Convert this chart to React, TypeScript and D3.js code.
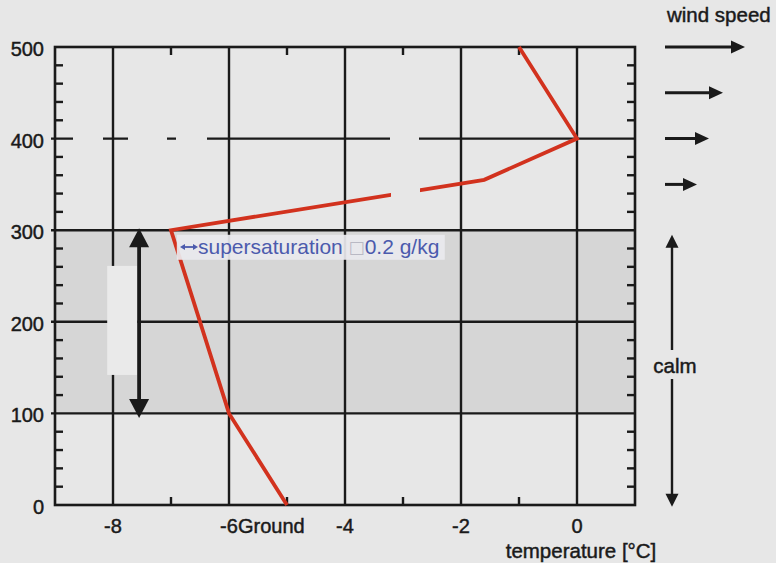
import React from 'react';
import * as d3 from 'd3';

// ── data ────────────────────────────────────────────────────────────────────
const profileHeights = [0, 100, 300, 355, 400, 500];
const profileTemps = [-5.0, -6.0, -7.0, -1.6, 0.0, -1.0];
const xTicks = [-8, -6, -4, -2, 0];
const xMinorTicks = [-7, -5, -3, -1];
const yTicks = [0, 100, 200, 300, 400, 500];
const yMinorTicks = [20, 40, 60, 80, 120, 140, 160, 180, 220, 240, 260, 280, 320, 340, 360, 380, 420, 440, 460, 480];
const calmBand = [100, 300];
const windHeights = [500, 450, 400, 350];
const windSpeeds = [8.0, 5.8, 4.4, 3.2];
const supersatSpan = [302, 95]; // height range of the black double arrow

const W = 776, H = 563;
const BG = '#e7e7e7';
const INK = '#1a1a1a';
const RED = '#d2321e';
const BLUE = '#4b5aad';
const FONT = '"Liberation Sans", Arial, Helvetica, sans-serif';

const x = d3.scaleLinear().domain([-9, 1]).range([55, 635]);
const y = d3.scaleLinear().domain([0, 500]).range([505, 47]);
const wind = d3.scaleLinear().domain([0, 8]).range([0, 80]);

const line = d3.line<number>()
  .x((_, i) => x(profileTemps[i]))
  .y(d => y(d));

function Head({ tx, ty, dir, len, half, fill }: { tx: number; ty: number; dir: 'up' | 'down' | 'right' | 'left'; len: number; half: number; fill: string }) {
  let pts: number[][] = [];
  if (dir === 'right') pts = [[tx, ty], [tx - len, ty - half], [tx - len, ty + half]];
  if (dir === 'left') pts = [[tx, ty], [tx + len, ty - half], [tx + len, ty + half]];
  if (dir === 'up') pts = [[tx, ty], [tx - half, ty + len], [tx + half, ty + len]];
  if (dir === 'down') pts = [[tx, ty], [tx - half, ty - len], [tx + half, ty - len]];
  return <polygon points={pts.map(p => p.join(',')).join(' ')} fill={fill} />;
}

// heavier text, like the printed figure
const txt = { fill: INK, stroke: INK, strokeWidth: 0.45 };

export default function App() {
  const x0 = x.range()[0], x1 = x.range()[1];
  const yTop = y(500), yBot = y(0);
  const arrowX = x(-7.55);
  const calmX = 672;
  const windX0 = 665;
  const GW = 2.4;

  return (
    <div style={{ position: 'absolute', left: 0, top: 0 }}>
      <svg width={W} height={H} viewBox={`0 0 ${W} ${H}`} style={{ display: 'block', background: BG, fontFamily: FONT }}>
        {/* shaded calm layer */}
        <rect x={x0} y={y(calmBand[1])} width={x1 - x0} height={y(calmBand[0]) - y(calmBand[1])} fill="#d6d6d6" />

        {/* vertical grid */}
        {xTicks.map(t => (
          <line key={'vg' + t} x1={x(t)} x2={x(t)} y1={yTop} y2={yBot} stroke={INK} strokeWidth={GW} />
        ))}
        {/* horizontal grid */}
        {yTicks.filter(t => t > 0 && t < 500).map(t => (
          <line key={'hg' + t} x1={x0 - 4} x2={x1} y1={y(t)} y2={y(t)} stroke={INK} strokeWidth={GW}
            strokeDasharray={t === 400 ? '22 30 25 39 9 31 183 29 230' : undefined} />
        ))}

        {/* light strip behind the supersaturation arrow */}
        <rect x={x(-8.1)} y={y(261)} width={x(-7.58) - x(-8.1)} height={y(142) - y(261)} fill="#eaeaea" />

        {/* minor ticks */}
        {yMinorTicks.map(t => (
          <g key={'ym' + t}>
            <line x1={x0} x2={x0 + 8} y1={y(t)} y2={y(t)} stroke={INK} strokeWidth={GW} />
            <line x1={x1 - 8} x2={x1} y1={y(t)} y2={y(t)} stroke={INK} strokeWidth={GW} />
          </g>
        ))}
        {xMinorTicks.map(t => (
          <g key={'xm' + t}>
            <line x1={x(t)} x2={x(t)} y1={yTop} y2={yTop + 8} stroke={INK} strokeWidth={GW} />
            <line x1={x(t)} x2={x(t)} y1={yBot - 8} y2={yBot} stroke={INK} strokeWidth={GW} />
          </g>
        ))}

        {/* frame */}
        <rect x={x0} y={yTop} width={x1 - x0} height={yBot - yTop} fill="none" stroke={INK} strokeWidth={2.6} />

        {/* temperature profile */}
        <path d={line(profileHeights) || ''} fill="none" stroke={RED} strokeWidth={3.8} strokeLinejoin="miter" />
        {/* gap in the profile */}
        <rect x={391} y={180} width={29} height={22} fill={BG} />

        {/* supersaturation double arrow */}
        <line x1={arrowX} x2={arrowX} y1={y(supersatSpan[0]) + 15} y2={y(supersatSpan[1]) - 15} stroke={INK} strokeWidth={3.8} />
        <Head tx={arrowX} ty={y(supersatSpan[0])} dir="up" len={19} half={10} fill={INK} />
        <Head tx={arrowX} ty={y(supersatSpan[1])} dir="down" len={19} half={10} fill={INK} />

        {/* supersaturation label */}
        <rect x={x(-6.9)} y={y(295)} width={x(-2.28) - x(-6.9)} height={25} fill="#e9e9ee" opacity={0.92} />
        <line x1={182} x2={195} y1={247} y2={247} stroke={BLUE} strokeWidth={1.8} />
        <Head tx={180} ty={247} dir="left" len={5} half={3} fill={BLUE} />
        <Head tx={198} ty={247} dir="right" len={5} half={3} fill={BLUE} />
        <text x={198} y={254} fontSize={21} fill={BLUE}>
          supersaturation <tspan fill="#b9b9c4" fontFamily="DejaVu Sans" fontSize={17} dy={-1}>□</tspan><tspan dy={1}>0.2 g/kg</tspan>
        </text>

        {/* y tick labels */}
        {yTicks.map(t => (
          <text key={'yl' + t} x={44} y={y(t) + 2} fontSize={20} {...txt} textAnchor="end" dominantBaseline="central">{t}</text>
        ))}
        {/* x tick labels */}
        {xTicks.map(t => (
          <text key={'xl' + t} x={x(t)} y={533} fontSize={20} {...txt} textAnchor="middle">{t}</text>
        ))}
        <text x={x(-6) + 9} y={533} fontSize={20} {...txt}>Ground</text>
        <text x={581} y={558} fontSize={20.5} {...txt} textAnchor="middle">temperature [°C]</text>

        {/* wind speed arrows */}
        <text x={667} y={22} fontSize={20.5} {...txt}>wind speed</text>
        {windHeights.map((h, i) => {
          const tip = windX0 + wind(windSpeeds[i]);
          return (
            <g key={'w' + h}>
              <line x1={windX0} x2={tip - 10} y1={y(h)} y2={y(h)} stroke={INK} strokeWidth={3} />
              <Head tx={tip} ty={y(h)} dir="right" len={14} half={6.5} fill={INK} />
            </g>
          );
        })}

        {/* calm arrow */}
        <line x1={calmX} x2={calmX} y1={y(295) + 10} y2={350} stroke={INK} strokeWidth={2.4} />
        <line x1={calmX} x2={calmX} y1={379} y2={y(0) - 10} stroke={INK} strokeWidth={2.4} />
        <Head tx={calmX} ty={y(295)} dir="up" len={13} half={6.5} fill={INK} />
        <Head tx={calmX} ty={y(-2)} dir="down" len={13} half={6.5} fill={INK} />
        <text x={675} y={365} fontSize={20.5} {...txt} textAnchor="middle" dominantBaseline="central">calm</text>
      </svg>
    </div>
  );
}
